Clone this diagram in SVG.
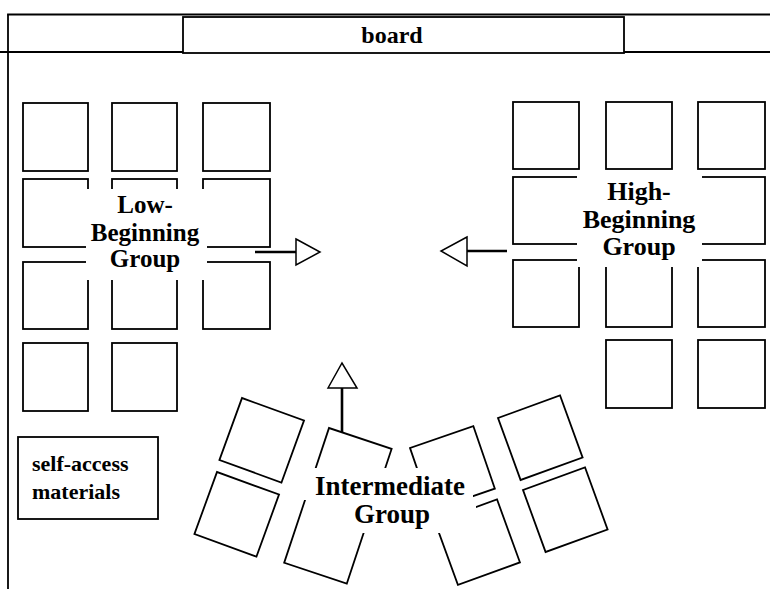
<svg xmlns="http://www.w3.org/2000/svg" width="770" height="589" viewBox="0 0 770 589">
<style>
  .frame{stroke:#000;stroke-width:1.8;fill:none}
  .desk{stroke:#000;stroke-width:1.8;fill:#fff}
  .mask{fill:#fff;stroke:none}
  .lbl{font-family:"Liberation Serif","Times New Roman",serif;font-weight:bold;fill:#000;text-anchor:middle}
  .shaft{stroke:#000;stroke-width:2.6;fill:none}
  .head{stroke:#000;stroke-width:1.5;fill:#fff;stroke-linejoin:miter}
</style>
<rect x="0" y="0" width="770" height="589" fill="#fff"/>
<g id="room">
  <line class="frame" x1="7.1" y1="14.5" x2="770" y2="14.5"/>
  <line class="frame" x1="8" y1="14.5" x2="8" y2="589"/>
  <line class="frame" x1="0" y1="52" x2="183" y2="52"/>
  <line class="frame" x1="624" y1="52" x2="770" y2="52"/>
</g>
<g id="board">
  <rect class="desk" x="183" y="17" width="441" height="36"/>
  <text class="lbl" x="392" y="43" font-size="24">board</text>
</g>
<g id="low-beginning">
  <rect class="desk" x="23" y="103" width="65" height="68"/>
  <rect class="desk" x="112" y="103" width="65" height="68"/>
  <rect class="desk" x="203" y="103" width="67" height="68"/>
  <rect class="desk" x="23" y="179" width="65" height="68"/>
  <rect class="desk" x="112" y="179" width="65" height="68"/>
  <rect class="desk" x="203" y="179" width="67" height="68"/>
  <rect class="desk" x="23" y="262" width="65" height="67"/>
  <rect class="desk" x="112" y="262" width="65" height="67"/>
  <rect class="desk" x="203" y="262" width="67" height="67"/>
  <rect class="desk" x="23" y="343" width="65" height="68"/>
  <rect class="desk" x="112" y="343" width="65" height="68"/>
  <rect class="mask" x="86" y="189" width="121" height="91"/>
  <text class="lbl" font-size="25"><tspan x="145" y="213">Low-</tspan><tspan x="145" y="241">Beginning</tspan><tspan x="145" y="267">Group</tspan></text>
</g>
<g id="high-beginning">
  <rect class="desk" x="513" y="102" width="66" height="67"/>
  <rect class="desk" x="606" y="102" width="66" height="67"/>
  <rect class="desk" x="698" y="102" width="67" height="67"/>
  <rect class="desk" x="513" y="177" width="66" height="67"/>
  <rect class="desk" x="606" y="177" width="66" height="67"/>
  <rect class="desk" x="698" y="177" width="67" height="67"/>
  <rect class="desk" x="513" y="260" width="66" height="67"/>
  <rect class="desk" x="606" y="260" width="66" height="67"/>
  <rect class="desk" x="698" y="260" width="67" height="67"/>
  <rect class="desk" x="606" y="340" width="66" height="68"/>
  <rect class="desk" x="698" y="340" width="67" height="68"/>
  <rect class="mask" x="577" y="171" width="125" height="96"/>
  <text class="lbl" font-size="26"><tspan x="639" y="200">High-</tspan><tspan x="639" y="228">Beginning</tspan><tspan x="639" y="255">Group</tspan></text>
</g>
<g id="intermediate">
  <rect class="desk" width="66" height="66" transform="translate(242,398) rotate(20)"/>
  <rect class="desk" width="66" height="66" transform="translate(217,472) rotate(20)"/>
  <rect class="desk" width="66" height="142" transform="translate(329,428) rotate(18.4)"/>
  <rect class="desk" width="67" height="66" transform="translate(410,448) rotate(-19)"/>
  <rect class="desk" width="66" height="67" transform="translate(435,522) rotate(-20)"/>
  <rect class="desk" width="66" height="66" transform="translate(498,418) rotate(-20)"/>
  <rect class="desk" width="66" height="66" transform="translate(523,490) rotate(-20)"/>
  <rect class="mask" x="303" y="468" width="170" height="32"/>
  <rect class="mask" x="330" y="499" width="146" height="34"/>
  <text class="lbl" font-size="27"><tspan x="390" y="495">Intermediate</tspan><tspan x="392" y="523">Group</tspan></text>
</g>
<g id="self-access">
  <rect class="desk" x="18" y="437" width="140" height="82"/>
  <text class="lbl" font-size="22" style="text-anchor:start"><tspan x="32" y="471">self-access</tspan><tspan x="32" y="499">materials</tspan></text>
</g>
<g id="connectors">
  <line class="shaft" x1="255" y1="252" x2="296" y2="252"/>
  <polygon class="head" points="296,239 320,252 296,265"/>
  <line class="shaft" x1="507" y1="251" x2="467" y2="251"/>
  <polygon class="head" points="467,237 441,251 467,266"/>
  <line class="shaft" x1="342" y1="432" x2="342" y2="388"/>
  <polygon class="head" points="328,388 342,363 357,388"/>
</g>
</svg>
